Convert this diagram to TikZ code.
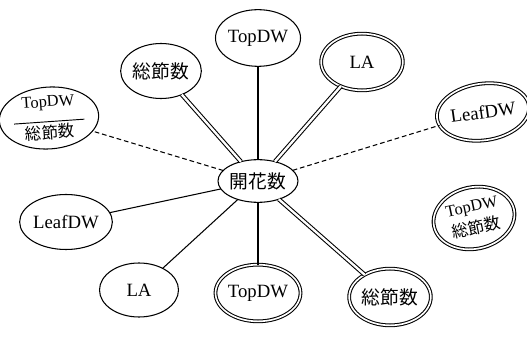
\documentclass[tikz,border=0pt]{standalone}
\usepackage{fontspec}
\setmainfont{Liberation Serif}
\newfontfamily\jpfont{Noto Sans CJK JP}
\usetikzlibrary{shapes.geometric}
\begin{document}
\begin{tikzpicture}[x=0.03cm,y=-0.03cm,inner sep=0pt,outer sep=0pt,line width=0.9pt,
onenode/.style={draw,ellipse,minimum width=2.35cm,minimum height=1.65cm,align=center,font=\fontsize{16}{17}\selectfont},
twonode/.style={onenode,double,double distance=1.4pt,minimum width=2.45cm,minimum height=1.7cm},
dbledge/.style={double,double distance=2pt},
dashedge/.style={dash pattern=on 4pt off 2.5pt}]
\useasboundingbox (0,0) rectangle (527,345);
\draw (258,181) node[onenode,minimum width=2.4cm,minimum height=1.28cm] (kai) {\jpfont 開花数};
\draw (258,38) node[onenode,minimum width=2.34cm,minimum height=1.7cm] (topA) {TopDW};
\draw (161,71) node[onenode,minimum width=2.42cm,minimum height=1.65cm] (sowA) {\jpfont 総節数};
\draw (49,118) node[onenode,minimum width=2.34cm,minimum height=1.5cm,rotate=4,font=\fontsize{14}{15}\selectfont] (frac)
  {TopDW\\[-2pt]\rule{60pt}{0.8pt}\\[-1pt]{\jpfont 総節数}};
\draw (362,62) node[twonode] (laA) {LA};
\draw (483,112) node[twonode,rotate=8] (leafA) {LeafDW};
\draw (66,222) node[onenode,minimum width=2.34cm] (leafB) {LeafDW};
\draw (139,290) node[onenode,minimum width=2.37cm,minimum height=1.62cm] (laB) {LA};
\draw (258,293) node[twonode] (topB) {TopDW};
\draw (390,297) node[twonode] (sowB) {\jpfont 総節数};
\draw (474,218) node[twonode,minimum height=1.85cm,rotate=12,font=\fontsize{14}{19}\selectfont] (lone) {TopDW\\{\jpfont 総節数}};
\draw (kai) -- (topA);
\draw[dbledge] (kai) -- (sowA);
\draw[dbledge] (kai) -- (laA);
\draw[dashedge] (kai) -- (leafA);
\draw[dashedge] (kai) -- (frac);
\draw (kai) -- (leafB);
\draw (kai) -- (laB);
\draw (kai) -- (topB);
\draw[dbledge] (kai) -- (sowB);
\end{tikzpicture}
\end{document}
